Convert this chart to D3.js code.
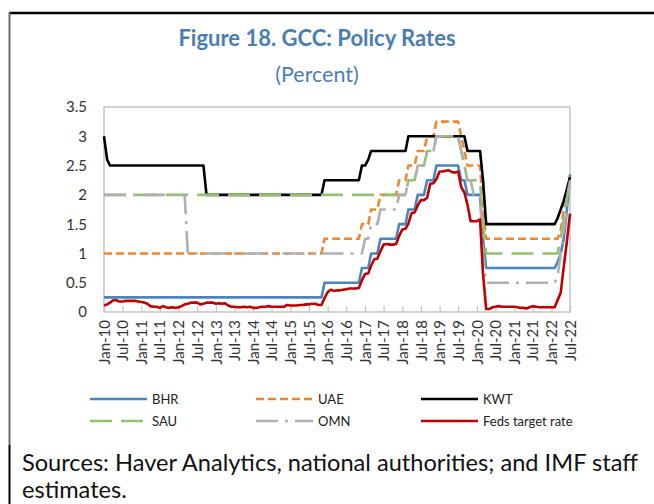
<!DOCTYPE html>
<html>
<head>
<meta charset="utf-8">
<script src="https://cdn.jsdelivr.net/npm/d3@7"></script>
<style>
  body { margin: 0; background: #fff; }
  text { font-family: Lato, "Open Sans", sans-serif; }
</style>
</head>
<body>
<svg id="viz"></svg>
<script>
// monthly data, Jan-2010 .. Jul-2022 (one row per year)
const startMonth = new Date(2010, 0, 1);

const bhr = [
  0.25,0.25,0.25,0.25,0.25,0.25,0.25,0.25,0.25,0.25,0.25,0.25,
  0.25,0.25,0.25,0.25,0.25,0.25,0.25,0.25,0.25,0.25,0.25,0.25,
  0.25,0.25,0.25,0.25,0.25,0.25,0.25,0.25,0.25,0.25,0.25,0.25,
  0.25,0.25,0.25,0.25,0.25,0.25,0.25,0.25,0.25,0.25,0.25,0.25,
  0.25,0.25,0.25,0.25,0.25,0.25,0.25,0.25,0.25,0.25,0.25,0.25,
  0.25,0.25,0.25,0.25,0.25,0.25,0.25,0.25,0.25,0.25,0.25,0.5,
  0.5,0.5,0.5,0.5,0.5,0.5,0.5,0.5,0.5,0.5,0.5,0.75,
  0.75,0.75,1.0,1.0,1.0,1.25,1.25,1.25,1.25,1.25,1.25,1.5,
  1.5,1.5,1.75,1.75,1.75,2.0,2.0,2.0,2.25,2.25,2.25,2.5,
  2.5,2.5,2.5,2.5,2.5,2.5,2.5,2.25,2.25,2.0,2.0,2.0,
  2.0,2.0,1.25,0.75,0.75,0.75,0.75,0.75,0.75,0.75,0.75,0.75,
  0.75,0.75,0.75,0.75,0.75,0.75,0.75,0.75,0.75,0.75,0.75,0.75,
  0.75,0.75,0.85,1.0,1.25,1.75,2.35
];
const uae = [
  1,1,1,1,1,1,1,1,1,1,1,1,
  1,1,1,1,1,1,1,1,1,1,1,1,
  1,1,1,1,1,1,1,1,1,1,1,1,
  1,1,1,1,1,1,1,1,1,1,1,1,
  1,1,1,1,1,1,1,1,1,1,1,1,
  1,1,1,1,1,1,1,1,1,1,1,1.25,
  1.25,1.25,1.25,1.25,1.25,1.25,1.25,1.25,1.25,1.25,1.25,1.5,
  1.5,1.5,1.75,1.75,1.75,2.0,2.0,2.0,2.0,2.0,2.0,2.25,
  2.25,2.25,2.5,2.5,2.5,2.75,2.75,2.75,3.0,3.0,3.0,3.25,
  3.25,3.25,3.25,3.25,3.25,3.25,3.25,3.0,2.75,2.5,2.5,2.5,
  2.5,2.5,1.75,1.25,1.25,1.25,1.25,1.25,1.25,1.25,1.25,1.25,
  1.25,1.25,1.25,1.25,1.25,1.25,1.25,1.25,1.25,1.25,1.25,1.25,
  1.25,1.25,1.25,1.4,1.75,2.0,2.3
];
const kwt = [
  3.0,2.6,2.5,2.5,2.5,2.5,2.5,2.5,2.5,2.5,2.5,2.5,
  2.5,2.5,2.5,2.5,2.5,2.5,2.5,2.5,2.5,2.5,2.5,2.5,
  2.5,2.5,2.5,2.5,2.5,2.5,2.5,2.5,2.5,2.0,2.0,2.0,
  2,2,2,2,2,2,2,2,2,2,2,2,
  2,2,2,2,2,2,2,2,2,2,2,2,
  2,2,2,2,2,2,2,2,2,2,2,2.25,
  2.25,2.25,2.25,2.25,2.25,2.25,2.25,2.25,2.25,2.25,2.25,2.5,
  2.5,2.6,2.75,2.75,2.75,2.75,2.75,2.75,2.75,2.75,2.75,2.75,
  2.75,2.75,3.0,3.0,3.0,3.0,3.0,3.0,3.0,3.0,3.0,3.0,
  3.0,3.0,3.0,3.0,3.0,3.0,3.0,3.0,3.0,2.75,2.75,2.75,
  2.75,2.75,2.25,1.5,1.5,1.5,1.5,1.5,1.5,1.5,1.5,1.5,
  1.5,1.5,1.5,1.5,1.5,1.5,1.5,1.5,1.5,1.5,1.5,1.5,
  1.5,1.5,1.6,1.75,1.9,2.1,2.3
];
const sau = [
  2,2,2,2,2,2,2,2,2,2,2,2,
  2,2,2,2,2,2,2,2,2,2,2,2,
  2,2,2,2,2,2,2,2,2,2,2,2,
  2,2,2,2,2,2,2,2,2,2,2,2,
  2,2,2,2,2,2,2,2,2,2,2,2,
  2,2,2,2,2,2,2,2,2,2,2,2,
  2,2,2,2,2,2,2,2,2,2,2,2,
  2,2,2,2,2,2,2,2,2,2,2,2,
  2.0,2.0,2.25,2.25,2.25,2.5,2.5,2.5,2.75,2.75,2.75,3.0,
  3.0,3.0,3.0,3.0,3.0,3.0,3.0,2.75,2.5,2.25,2.25,2.25,
  2.25,2.25,1.5,1.0,1.0,1.0,1.0,1.0,1.0,1.0,1.0,1.0,
  1,1,1,1,1,1,1,1,1,1,1,1,
  1.0,1.0,1.0,1.25,1.6,1.95,2.25
];
const omn = [
  2,2,2,2,2,2,2,2,2,2,2,2,
  2,2,2,2,2,2,2,2,2,2,2,2,
  2.0,2.0,2.0,1.0,1.0,1.0,1.0,1.0,1.0,1.0,1.0,1.0,
  1,1,1,1,1,1,1,1,1,1,1,1,
  1,1,1,1,1,1,1,1,1,1,1,1,
  1,1,1,1,1,1,1,1,1,1,1,1,
  1,1,1,1,1,1,1,1,1,1,1,1,
  1.25,1.25,1.5,1.5,1.5,1.75,1.75,1.75,1.75,1.75,1.75,2.0,
  2.0,2.0,2.25,2.25,2.25,2.5,2.5,2.5,2.75,2.75,2.75,3.0,
  3.0,3.0,3.0,3.0,3.0,3.0,3.0,2.75,2.5,2.25,2.25,2.0,
  2.0,2.0,1.0,0.5,0.5,0.5,0.5,0.5,0.5,0.5,0.5,0.5,
  0.5,0.5,0.5,0.5,0.5,0.5,0.5,0.5,0.5,0.5,0.5,0.5,
  0.5,0.5,0.6,1.0,1.4,1.8,2.25
];
const fed = [
  0.11,0.13,0.16,0.20,0.20,0.18,0.18,0.19,0.19,0.19,0.19,0.18,
  0.17,0.16,0.14,0.10,0.09,0.09,0.07,0.10,0.08,0.07,0.08,0.07,
  0.08,0.10,0.13,0.14,0.16,0.16,0.16,0.13,0.14,0.16,0.16,0.16,
  0.14,0.15,0.14,0.15,0.11,0.09,0.09,0.08,0.08,0.09,0.08,0.09,
  0.07,0.07,0.08,0.09,0.09,0.10,0.09,0.09,0.09,0.09,0.09,0.12,
  0.11,0.11,0.11,0.12,0.12,0.13,0.13,0.14,0.14,0.12,0.12,0.24,
  0.34,0.38,0.36,0.37,0.37,0.38,0.39,0.40,0.40,0.40,0.41,0.54,
  0.65,0.66,0.79,0.90,0.91,1.04,1.15,1.16,1.15,1.15,1.16,1.30,
  1.41,1.42,1.51,1.69,1.70,1.82,1.91,1.91,1.95,2.19,2.20,2.27,
  2.40,2.40,2.41,2.42,2.39,2.38,2.40,2.13,2.04,1.83,1.55,1.55,
  1.55,1.58,0.65,0.05,0.05,0.08,0.09,0.10,0.09,0.09,0.09,0.09,
  0.09,0.08,0.07,0.07,0.06,0.08,0.10,0.09,0.08,0.08,0.08,0.08,
  0.08,0.08,0.20,0.33,0.77,1.21,1.68
];

const seriesNames = ["BHR", "UAE", "KWT", "SAU", "OMN", "Feds target rate"];
const seriesValues = [bhr, uae, kwt, sau, omn, fed];
const yTicks = [0, 0.5, 1, 1.5, 2, 2.5, 3, 3.5];

// styles per series
const colors = ["#4a85bf", "#f08632", "#000000", "#93c26a", "#b0b0b0", "#c00000"];
const dashes = [null, "8,4", null, "22,9", "22,7,3,7", null];

let svg = d3.select("#viz").attr("width", 654).attr("height", 504);

// frame
svg.append("line").attr("x1", 9).attr("x2", 654).attr("y1", 13).attr("y2", 13)
  .attr("stroke", "#000").attr("stroke-width", 2.5);
svg.append("line").attr("x1", 9.5).attr("x2", 9.5).attr("y1", 12).attr("y2", 445)
  .attr("stroke", "#6a6a6a").attr("stroke-width", 2);
svg.append("line").attr("x1", 9.5).attr("x2", 9.5).attr("y1", 445).attr("y2", 504)
  .attr("stroke", "#000").attr("stroke-width", 2);

// titles
svg.append("text").attr("x", 317).attr("y", 46).attr("text-anchor", "middle")
  .attr("font-family", "'Open Sans'")
  .attr("font-size", 22).attr("font-weight", "bold").attr("fill", "#4a7eb3")
  .text("Figure 18. GCC: Policy Rates");
svg.append("text").attr("x", 317).attr("y", 82).attr("text-anchor", "middle")
  .attr("font-family", "'Open Sans'")
  .attr("font-size", 21.5).attr("fill", "#4a7eb3")
  .text("(Percent)");

// scales
let endMonth = d3.timeMonth.offset(startMonth, bhr.length - 1);
let x = d3.scaleTime().domain([startMonth, endMonth]).range([104, 570]);
let y = d3.scaleLinear().domain([0, 3.5]).range([312, 107]);
let dates = bhr.map((d, i) => d3.timeMonth.offset(startMonth, i));

// plot frame
svg.append("rect").attr("x", 104).attr("y", 107).attr("width", 466).attr("height", 205)
  .attr("fill", "none").attr("stroke", "#c4c4c4").attr("stroke-width", 1.5);

// y axis labels
svg.append("g").selectAll("text").data(yTicks).enter().append("text")
  .attr("x", 87).attr("y", d => y(d)).attr("dy", "0.36em")
  .attr("text-anchor", "end").attr("font-size", 15).attr("fill", "#333")
  .text(d => d);

// x axis
let xTicks = d3.timeMonth.every(6).range(startMonth, d3.timeMonth.offset(endMonth, 1));
let xAxis = svg.append("g").attr("transform", "translate(0,312)")
  .call(d3.axisBottom(x).tickValues(xTicks).tickFormat(d3.timeFormat("%b-%y"))
    .tickSizeInner(-6).tickSizeOuter(0));
xAxis.select(".domain").remove();
xAxis.selectAll(".tick line").attr("stroke", "#c4c4c4").attr("stroke-width", 1.2);
xAxis.selectAll(".tick text")
  .attr("font-family", "Lato").attr("font-size", 15).attr("fill", "#333")
  .attr("transform", "rotate(-90)")
  .attr("text-anchor", "end").attr("x", -8).attr("y", 0).attr("dy", "0.35em");

// lines
let line = d3.line().x((d, i) => x(dates[i])).y(d => y(d));
svg.append("g").selectAll("path").data(seriesValues).enter().append("path")
  .attr("d", d => line(d))
  .attr("fill", "none")
  .attr("stroke", (d, i) => colors[i])
  .attr("stroke-width", 2.6)
  .attr("stroke-dasharray", (d, i) => dashes[i])
  .attr("stroke-linejoin", "round");

// legend
let legendPos = [[90, 399], [256, 399], [421, 399], [90, 421], [256, 421], [421, 421]];
let legend = svg.append("g").selectAll("g").data(seriesNames).enter().append("g")
  .attr("transform", (d, i) => "translate(" + legendPos[i] + ")");
legend.append("line").attr("x1", 0).attr("x2", 57).attr("y1", 0).attr("y2", 0)
  .attr("stroke", (d, i) => colors[i]).attr("stroke-width", 2.6)
  .attr("stroke-dasharray", (d, i) => dashes[i]);
legend.append("text").attr("x", 62).attr("y", 0).attr("dy", "0.35em")
  .attr("font-size", 13).attr("fill", "#222").text(d => d);

// source note
svg.append("text").attr("x", 22).attr("y", 471).attr("font-family", "'Open Sans'")
  .attr("font-size", 23.6).attr("fill", "#111")
  .text("Sources: Haver Analytics, national authorities; and IMF staff");
svg.append("text").attr("x", 22).attr("y", 498).attr("font-family", "'Open Sans'")
  .attr("font-size", 23.6).attr("fill", "#111")
  .text("estimates.");
</script>
</body>
</html>
